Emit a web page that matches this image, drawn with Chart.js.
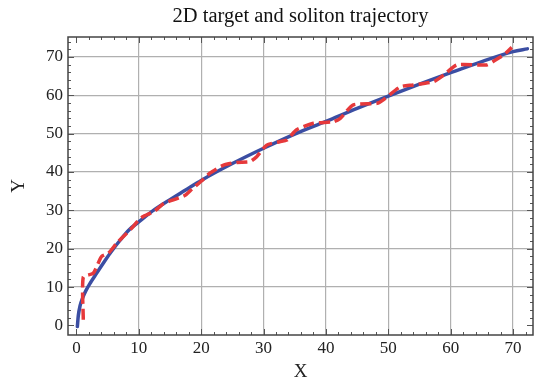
<!DOCTYPE html>
<html>
<head>
<meta charset="utf-8">
<script src="https://cdn.jsdelivr.net/npm/chart.js@4"></script>
<style>
  html, body { margin: 0; padding: 0; background: #fff; }
  #wrap { width: 539px; height: 383px; }
</style>
</head>
<body>
<div id="wrap"><canvas id="traj"></canvas></div>
<script>
// target trajectory (blue, solid)
var targetX = [0.15, 0.3, 0.6, 1, 1.5, 2.2, 3, 4.3, 5.4, 7, 8.5, 10, 12.5, 15, 17.5, 20, 25, 30, 35, 40, 45, 50, 55, 60, 65, 70, 72.3];
var targetY = [-0.3, 2.5, 5.2, 7.2, 9, 11, 13, 16.2, 18.8, 22.2, 25, 27, 30.2, 32.8, 35.3, 37.8, 42.2, 46.2, 49.9, 53.2, 56.6, 59.8, 62.9, 65.9, 68.8, 71.4, 72.1];

// soliton trajectory (red, dashed)
var solitonX = [1.1, 1.1, 2.7, 4, 5.1, 6.5, 8.6, 10, 10.6, 12.5, 14, 16, 17.5, 18.5, 20, 21.4, 23.6, 25.7, 27.8, 28.9, 30.5, 32.6, 33.7, 35.3, 38, 41.2, 42.3, 44.4, 48.2, 49.2, 51.9, 54, 57.3, 58.9, 61, 65.8, 66.8, 68.5, 69.8];
var solitonY = [1.5, 12.6, 13.6, 17.9, 18.8, 21.5, 24.9, 27.5, 28.3, 29.8, 31.8, 33.0, 34.0, 35.5, 37.6, 39.7, 41.8, 42.5, 42.7, 44, 47, 47.9, 48.3, 51, 52.7, 53.1, 54, 57.5, 57.9, 58.8, 62.2, 62.7, 63.6, 65.3, 67.9, 67.9, 68.8, 70.5, 72.5];

var xTicks = [0, 10, 20, 30, 40, 50, 60, 70];
var yTicks = [0, 10, 20, 30, 40, 50, 60, 70];
var chartTitle = '2D target and soliton trajectory';

function pairs(xs, ys) {
    var out = [];
    for (var i = 0; i < xs.length; i++) out.push({x: xs[i], y: ys[i]});
    return out;
}

var serif = "'Liberation Serif', 'DejaVu Serif', serif";

// title centred over the plot area, frame, small inward ticks on all four sides
var frameTicks = {
    id: 'frameTicks',
    afterDraw: function(chart) {
        var c = chart.ctx, a = chart.chartArea;
        var sx = chart.scales.x, sy = chart.scales.y;
        c.save();
        c.fillStyle = '#111';
        c.font = '20.5px ' + serif;
        c.textAlign = 'center';
        c.textBaseline = 'middle';
        c.fillText(chartTitle, (a.left + a.right) / 2, 17);

        c.strokeStyle = '#555';
        c.lineWidth = 1;
        var v, p, len;
        for (v = 0; v <= sx.max; v += 2) {
            if (v < sx.min) continue;
            p = Math.round(sx.getPixelForValue(v)) + 0.5;
            len = (v % 10 === 0) ? 6 : 3;
            c.beginPath();
            c.moveTo(p, a.bottom); c.lineTo(p, a.bottom - len);
            c.moveTo(p, a.top); c.lineTo(p, a.top + len);
            c.stroke();
        }
        for (v = 0; v <= sy.max; v += 2) {
            if (v < sy.min) continue;
            p = Math.round(sy.getPixelForValue(v)) + 0.5;
            len = (v % 10 === 0) ? 6 : 3;
            c.beginPath();
            c.moveTo(a.left, p); c.lineTo(a.left + len, p);
            c.moveTo(a.right, p); c.lineTo(a.right - len, p);
            c.stroke();
        }
        c.lineWidth = 1.5;
        c.strokeStyle = '#444';
        c.strokeRect(a.left, a.top, a.right - a.left, a.bottom - a.top);
        c.restore();
    }
};

var ctx = document.getElementById('traj');
new Chart(ctx, {
    type: 'line',
    data: {
        datasets: [
            {
                label: 'target',
                data: pairs(targetX, targetY),
                borderColor: '#3b4ea3',
                borderWidth: 3.5,
                pointRadius: 0,
                fill: false,
                cubicInterpolationMode: 'monotone',
                borderCapStyle: 'round',
                order: 2
            },
            {
                label: 'soliton',
                data: pairs(solitonX, solitonY),
                borderColor: '#e6393b',
                borderWidth: 3.5,
                borderDash: [11, 5],
                pointRadius: 0,
                fill: false,
                tension: 0.2,
                order: 1
            }
        ]
    },
    options: {
        responsive: true,
        maintainAspectRatio: false,
        animation: false,
        layout: { padding: { left: 0, right: 6, top: 37, bottom: 0 } },
        plugins: {
            legend: { display: false },
            tooltip: { enabled: false },
            title: { display: false }
        },
        scales: {
            x: {
                type: 'linear',
                min: -1.35,
                max: 73.2,
                afterBuildTicks: function(s) { s.ticks = xTicks.map(function(v){ return {value: v}; }); },
                afterFit: function(s) { s.height = 48; },
                border: { display: false },
                grid: {
                    drawTicks: false,
                    lineWidth: 1.2,
                    color: function(c) { return c.tick && c.tick.value === 0 ? 'rgba(0,0,0,0)' : '#b0b0b0'; }
                },
                ticks: {
                    padding: 3,
                    color: '#222',
                    maxRotation: 0,
                    font: { family: serif, size: 17 }
                },
                title: {
                    display: true,
                    text: 'X',
                    color: '#222',
                    font: { family: serif, size: 19 },
                    padding: { top: 0, bottom: 0 }
                }
            },
            y: {
                type: 'linear',
                min: -2.5,
                max: 75.2,
                afterBuildTicks: function(s) { s.ticks = yTicks.map(function(v){ return {value: v}; }); },
                afterFit: function(s) { s.width = 68; },
                border: { display: false },
                grid: {
                    drawTicks: false,
                    lineWidth: 1.2,
                    color: function(c) { return c.tick && c.tick.value === 0 ? 'rgba(0,0,0,0)' : '#b0b0b0'; }
                },
                ticks: {
                    padding: 5,
                    color: '#222',
                    font: { family: serif, size: 17 }
                },
                title: {
                    display: true,
                    text: 'Y',
                    color: '#222',
                    font: { family: serif, size: 19 },
                    padding: { top: 8, bottom: 0 }
                }
            }
        }
    },
    plugins: [frameTicks]
});
</script>
</body>
</html>
